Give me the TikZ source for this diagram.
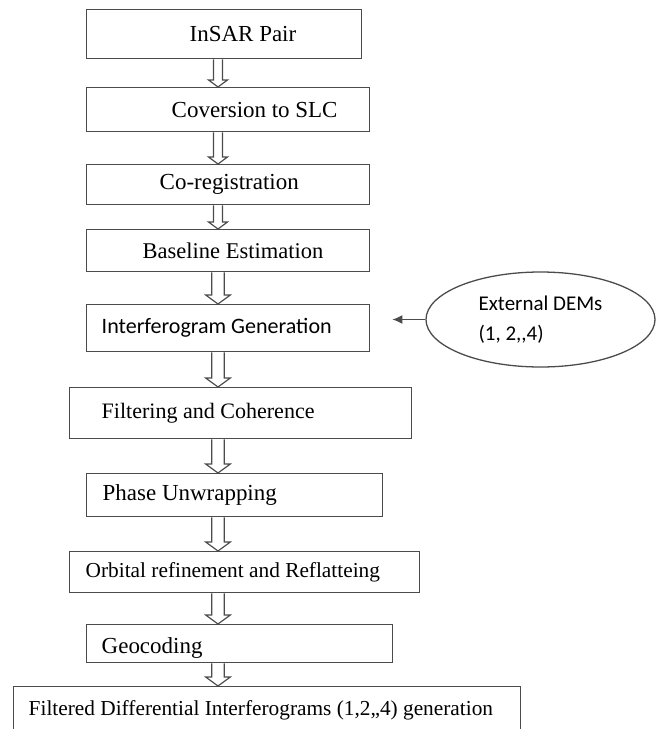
\documentclass[tikz,border=0pt]{standalone}
\usepackage{fontspec}
\setmainfont{Liberation Serif}
\newfontfamily\demfont{Carlito}
\usetikzlibrary{positioning,arrows.meta,shapes.geometric,calc}
\definecolor{edgegrey}{RGB}{75,75,75}
\tikzset{
    stepbox/.style={
        draw=edgegrey,
        line width=1.25pt,
        anchor=north west,
        inner sep=0pt,
        align=flush left,
        font=\fontsize{19.6}{22}\selectfont
    },
    sourceblob/.style={
        draw=edgegrey,
        line width=1.1pt,
        ellipse,
        inner sep=0pt,
        align=flush left,
        font=\demfont\fontsize{17.9}{25.6}\selectfont,
        minimum width=6.87cm,
        minimum height=2.85cm
    },
    hollow/.style n args={3}{
        to path={let \p1=(\tikztostart), \p2=(\tikztotarget) in
            (\x1-#1,\y1) -- (\x1-#1,\y2+#3) -- (\x1-#2,\y2+#3) -- (\x2,\y2)
            -- (\x1+#2,\y2+#3) -- (\x1+#1,\y2+#3) -- (\x1+#1,\y1)}
    },
    smallflow/.style={draw=edgegrey, line width=1pt, hollow={0.135cm}{0.285cm}{0.21cm}},
    bigflow/.style={draw=edgegrey, line width=1pt, hollow={0.19cm}{0.37cm}{0.27cm}},
    feed/.style={-{Latex[length=0.3cm,width=0.27cm]}, draw=edgegrey, line width=1pt, shorten >=0.66cm}
}

\begin{document}
\begin{tikzpicture}

\useasboundingbox (0,0) rectangle (19.68,-21.87);

% Processing chain
\node[stepbox, text width=8.25cm, minimum height=1.47cm] (pair) at (2.58,-0.27)
{\hspace*{3.09cm}InSAR Pair};

\node[stepbox, text width=8.49cm, minimum height=1.32cm] (slc) at (2.58,-2.61)
{\hspace*{2.55cm}Coversion to SLC};

\node[stepbox, text width=8.49cm, minimum height=1.2cm] (coreg) at (2.58,-4.92)
{\hspace*{2.19cm}Co-registration};

\node[stepbox, text width=8.49cm, minimum height=1.26cm, font=\fontsize{19.2}{22}\selectfont] (base) at (2.58,-6.87)
{\hspace*{1.68cm}Baseline Estimation};

\node[stepbox, text width=8.49cm, minimum height=1.41cm] (ifg) at (2.58,-9.12)
{\hspace*{0.45cm}\demfont\fontsize{18.8}{22}\selectfont Interferogram Generation};

\node[stepbox, text width=10.26cm, minimum height=1.53cm, font=\fontsize{18.8}{22}\selectfont] (filt) at (2.07,-11.61)
{\hspace*{0.96cm}Filtering and Coherence};

\node[stepbox, text width=8.88cm, minimum height=1.29cm] (unwrap) at (2.58,-14.19)
{\hspace*{0.48cm}Phase Unwrapping};

\node[stepbox, text width=10.5cm, minimum height=1.23cm, font=\fontsize{18.2}{22}\selectfont] (orbit) at (2.07,-16.53)
{\hspace*{0.48cm}Orbital refinement and Reflatteing};

\node[stepbox, text width=9.18cm, text height=0.87cm, text depth=0.27cm] (geo) at (2.58,-18.72)
{\hspace*{0.45cm}Geocoding};

\node[stepbox, text width=15.21cm, text height=0.855cm, text depth=1.065cm, font=\fontsize{18.2}{22}\selectfont] (fdi) at (0.39,-20.58)
{\hspace*{0.45cm}Filtered Differential Interferograms (1,2,,4) generation};

% DEM input
\node[sourceblob] (dem) at (16.215,-9.585) {External DEMs\\(1, 2,,4)};

\draw[feed] (dem.west) -- (dem.west -| ifg.east);

% Hollow arrows down the chain
\coordinate (spine) at (6.54,0);

\draw[smallflow] (pair.south -| spine) to (slc.north -| spine);
\draw[smallflow] (slc.south -| spine) to (coreg.north -| spine);
\draw[smallflow] (coreg.south -| spine) to (base.north -| spine);
\draw[bigflow] (base.south -| spine) to (ifg.north -| spine);
\draw[bigflow] (ifg.south -| spine) to (filt.north -| spine);
\draw[bigflow] (filt.south -| spine) to (unwrap.north -| spine);
\draw[bigflow] (unwrap.south -| spine) to (orbit.north -| spine);
\draw[bigflow] (orbit.south -| spine) to (geo.north -| spine);
\draw[bigflow] (geo.south -| spine) to (fdi.north -| spine);

\end{tikzpicture}
\end{document}
